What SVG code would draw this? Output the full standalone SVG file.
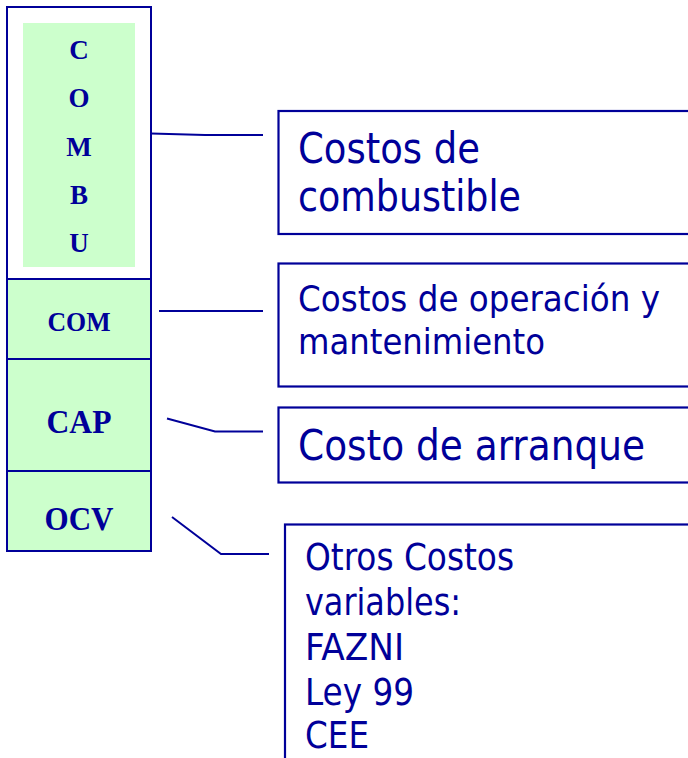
<svg xmlns="http://www.w3.org/2000/svg" width="688" height="758" viewBox="0 0 688 758">
<style>
.col{fill:#CCFFCC;stroke:#000099;stroke-width:2}
.box{fill:#FFFFFF;stroke:#000099;stroke-width:2.2}
.lt{font-family:"Liberation Serif","Times New Roman",serif;font-weight:bold;fill:#000099;text-anchor:middle}
.rt{font-family:"DejaVu Sans Condensed","DejaVu Sans",sans-serif;font-stretch:condensed;fill:#000099}
.con{fill:none;stroke:#000099;stroke-width:2}
</style>
<rect width="688" height="758" fill="#FFFFFF"/>
<g id="combu">
<rect x="7" y="7" width="144" height="272" fill="#FFFFFF" stroke="#000099" stroke-width="2"/>
<rect x="23" y="23" width="112" height="244" fill="#CCFFCC"/>
<text class="lt" x="79" y="59" font-size="27">C</text>
<text class="lt" x="79" y="107" font-size="27">O</text>
<text class="lt" x="79" y="155.5" font-size="27">M</text>
<text class="lt" x="79" y="203.5" font-size="27">B</text>
<text class="lt" x="79" y="251.5" font-size="27">U</text>
</g>
<g id="com">
<rect class="col" x="7" y="279" width="144" height="80"/>
<text class="lt" x="79" y="331" font-size="27" textLength="63" lengthAdjust="spacingAndGlyphs">COM</text>
</g>
<g id="cap">
<rect class="col" x="7" y="359" width="144" height="112"/>
<text class="lt" x="79" y="432.5" font-size="33" textLength="65" lengthAdjust="spacingAndGlyphs">CAP</text>
</g>
<g id="ocv">
<rect class="col" x="7" y="471" width="144" height="80"/>
<text class="lt" x="79" y="530" font-size="33" textLength="69" lengthAdjust="spacingAndGlyphs">OCV</text>
</g>
<g id="connectors">
<polyline class="con" points="151,133.5 205,135 263,135"/>
<line class="con" x1="159" y1="311" x2="263" y2="311"/>
<polyline class="con" points="167,418.5 215,431.5 263,431.5"/>
<polyline class="con" points="172,517 221,554 269,554"/>
</g>
<g id="box-combustible">
<rect class="box" x="278.5" y="111" width="420" height="123"/>
<text class="rt" x="298" y="162.5" font-size="42" textLength="182" lengthAdjust="spacingAndGlyphs">Costos de</text>
<text class="rt" x="298" y="211" font-size="42" textLength="223" lengthAdjust="spacingAndGlyphs">combustible</text>
</g>
<g id="box-operacion">
<rect class="box" x="278.5" y="263.5" width="420" height="123"/>
<text class="rt" x="298" y="311" font-size="36" textLength="362" lengthAdjust="spacingAndGlyphs">Costos de operación y</text>
<text class="rt" x="298" y="354" font-size="36" textLength="247" lengthAdjust="spacingAndGlyphs">mantenimiento</text>
</g>
<g id="box-arranque">
<rect class="box" x="278.5" y="407.5" width="420" height="75"/>
<text class="rt" x="298" y="460" font-size="42" textLength="347" lengthAdjust="spacingAndGlyphs">Costo de arranque</text>
</g>
<g id="box-otros">
<rect class="box" x="285" y="524.5" width="420" height="260"/>
<text class="rt" x="305" y="570" font-size="37.5" textLength="209" lengthAdjust="spacingAndGlyphs">Otros Costos</text>
<text class="rt" x="305" y="615" font-size="37.5" textLength="156" lengthAdjust="spacingAndGlyphs">variables:</text>
<text class="rt" x="305" y="660" font-size="37.5" textLength="99" lengthAdjust="spacingAndGlyphs">FAZNI</text>
<text class="rt" x="305" y="705" font-size="37.5" textLength="109" lengthAdjust="spacingAndGlyphs">Ley 99</text>
<text class="rt" x="305" y="748" font-size="37.5" textLength="64" lengthAdjust="spacingAndGlyphs">CEE</text>
</g>
</svg>
